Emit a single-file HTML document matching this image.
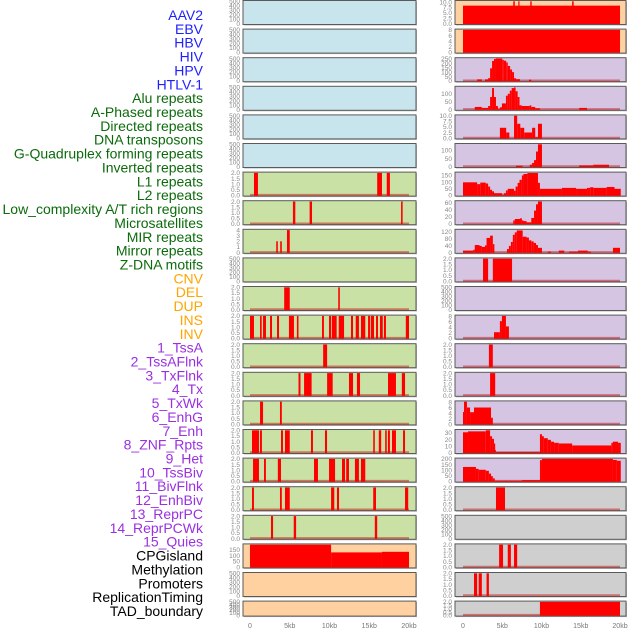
<!DOCTYPE html>
<html><head><meta charset="utf-8">
<style>
html,body{margin:0;padding:0;background:#fff;}
svg{display:block;font-family:"Liberation Sans",sans-serif;}
</style></head>
<body>
<svg id="chart" width="630" height="630" viewBox="0 0 630 630" xmlns="http://www.w3.org/2000/svg"></svg>
<script>
// ---- labels ----
const labelNames = ["AAV2","EBV","HBV","HIV","HPV","HTLV-1","Alu repeats","A-Phased repeats","Directed repeats","DNA transposons","G-Quadruplex forming repeats","Inverted repeats","L1 repeats","L2 repeats","Low_complexity A/T rich regions","Microsatellites","MIR repeats","Mirror repeats","Z-DNA motifs","CNV","DEL","DUP","INS","INV","1_TssA","2_TssAFlnk","3_TxFlnk","4_Tx","5_TxWk","6_EnhG","7_Enh","8_ZNF_Rpts","9_Het","10_TssBiv","11_BivFlnk","12_EnhBiv","13_ReprPC","14_ReprPCWk","15_Quies","CPGisland","Methylation","Promoters","ReplicationTiming","TAD_boundary"];
const labelGroups = [6,13,5,15,5];
const groupColors = ["#1f1fff","#0b6b0b","#ffa500","#9a30e0","#000000"];

// ---- x axis ----
const xTicks = [0,5,10,15,20];
const xTickLabels = ["0","5kb","10kb","15kb","20kb"];

// ---- left column panels: segments [startKb, endKb, value] ----
const L0=[],L1=[],L2=[],L3=[],L4=[],L5=[];
const L6=[[0.5,1.0,2],[16.0,16.6,2],[17.2,17.6,2]];
const L7=[[5.4,5.7,2],[7.5,7.8,2],[19.0,19.2,2]];
const L8=[[3.3,3.5,2],[3.8,4.0,2],[4.65,5.0,4]];
const L9=[];
const L10=[[4.3,5.0,2],[11.1,11.3,2]];
const L11=[[0,0.5,2],[1.26,1.47,2],[1.64,2.01,2],[2.52,2.77,2],[3.4,3.65,2],[4.9,5.53,2],[5.9,6.1,2],[9.06,9.3,2],[9.94,10.2,2],[10.3,10.9,2],[11.16,11.83,2],[12.7,12.96,2],[13.3,13.7,2],[13.96,14.5,2],[14.85,15.1,2],[15.2,15.6,2],[15.85,16.1,2],[16.35,16.7,2],[16.85,17.1,2],[19.6,20.0,2]];
const L12=[[9.2,9.7,2]];
const L13=[[6.1,6.35,2],[6.8,7.75,2],[9.7,10.4,2],[12.45,12.96,2],[13.45,13.84,2],[17.36,18.36,2],[19.1,19.5,2]];
const L14=[[1.26,1.64,2],[3.77,4.0,2]];
const L15=[[0.25,1.13,2],[1.26,1.5,2],[3.9,4.15,2],[4.4,5.0,2],[7.67,7.92,2],[9.43,9.69,2],[15.5,15.7,2],[16.2,16.5,2],[17.0,17.2,2],[17.35,17.6,2],[17.86,18.36,2],[19.25,19.5,2]];
const L16=[[0.38,1.13,2],[1.76,2.0,2],[3.5,3.9,2],[8.05,8.55,2],[9.94,10.7,2],[11.57,11.95,2],[12.1,12.45,2],[13.2,13.7,2],[13.96,14.5,2]];
const L17=[[0.25,0.5,2],[3.77,4.0,2],[4.4,5.0,2],[10.2,10.6,2],[10.94,11.2,2],[15.5,15.85,2],[19.5,19.9,2]];
const L18=[[2.64,2.9,2],[5.5,5.8,2],[15.7,16.0,2]];
const L19=[[0,10.2,195],[10.2,16.6,128],[16.6,20.0,133]];
const L20=[],L21=[];

// ---- right column panels ----
const R0=[[0,20,8.3],[6.4,6.6,10.3],[7.05,7.2,10.3],[8.57,8.75,10.3],[13.9,14.1,10.3]];
const R1=[[0,20,8]];
const R2=[[1.8,2.4,18],[2.8,3.2,18],[3.2,3.45,31],[3.45,3.7,143],[3.7,3.95,227],[3.95,4.2,250],[4.2,5.0,255],[5.0,5.2,240],[5.2,5.5,230],[5.5,5.7,210],[5.7,6.0,170],[6.0,6.25,130],[6.25,6.5,100],[6.5,6.75,30],[6.75,7.26,20],[8.4,8.7,15]];
const R3=[[1.5,2.4,16],[2.4,3.2,10],[3.2,3.45,22],[3.45,3.7,78],[3.7,3.95,134],[3.95,4.2,78],[4.2,4.45,22],[4.45,4.7,4],[4.7,4.96,14],[4.96,5.47,38],[5.47,5.7,86],[5.7,5.96,98],[5.96,6.2,118],[6.2,6.5,134],[6.5,6.7,138],[6.7,6.96,114],[6.96,7.2,78],[7.2,7.5,26],[7.5,8.5,22],[8.5,8.7,26],[8.7,9.2,16],[9.2,9.8,8],[14.8,15.8,10]];
const R4=[[4.7,5.5,4.6],[5.5,5.9,2.5],[6.5,6.9,10],[6.9,7.3,6.4],[7.3,7.8,4.6],[7.8,8.8,2.5],[8.8,9.2,4.6],[9.2,9.55,0.4],[9.55,10.06,6.4]];
const R5=[[6.75,7.6,6],[8.5,8.8,12],[8.8,9.05,23],[9.05,9.3,40],[9.3,9.55,92],[9.55,10.06,136],[14.8,16.6,8],[16.6,18.6,12]];
const R6=[[0,1.8,98],[1.8,2.2,84],[2.2,2.9,96],[2.9,3.2,89],[3.2,3.45,66],[3.45,3.7,42],[3.7,3.95,30],[3.95,5.0,16],[5.0,5.2,2],[5.2,5.47,16],[5.47,5.7,37],[5.7,6.5,49],[6.5,6.7,35],[6.7,6.96,66],[6.96,7.2,94],[7.2,7.5,117],[7.5,7.7,150],[7.7,8.2,161],[8.2,9.55,168],[9.55,9.8,94],[9.8,12.6,49],[12.6,14.4,56],[14.4,15.8,49],[15.8,16.2,56],[16.2,16.6,61],[16.6,18.3,56],[18.3,19.3,63],[19.3,20.1,49]];
const R7=[[6.4,6.6,10],[6.6,7.26,14],[7.26,7.5,16],[7.5,7.7,10],[7.7,8.1,8],[8.1,8.7,4.5],[8.7,9.05,17],[9.05,9.3,38],[9.3,9.55,56],[9.55,10.06,64]];
const R8=[[0,1.3,11],[1.3,1.5,16],[1.5,2.1,43],[2.1,2.4,38],[2.4,2.8,32],[2.8,3.0,41],[3.0,3.45,84],[3.45,3.8,97],[3.8,4.0,48],[5.6,5.85,20],[5.85,6.1,38],[6.1,6.35,61],[6.35,6.6,102],[6.6,6.85,116],[6.85,7.6,127],[7.6,8.1,91],[8.1,8.4,86],[8.4,8.7,70],[8.7,9.0,64],[9.0,9.3,55],[9.3,9.55,43],[9.55,10.06,27],[10.8,11.2,5],[12.2,12.9,11],[13.5,14.0,5],[14.0,14.65,5],[14.65,15.9,11],[15.9,16.3,5],[19.1,20.0,27]];
const R9=[[2.55,3.2,2],[3.8,6.25,2]];
const R10=[];
const R11=[[3.95,4.7,2.2],[4.7,4.96,6.2],[4.96,5.47,8.1],[5.47,5.85,4.3]];
const R12=[[3.3,3.8,2]];
const R13=[[3.45,4.1,2]];
const R14=[[0,0.13,4.4],[0.13,0.5,8.1],[0.5,0.9,6],[0.9,1.4,4.3],[1.4,3.57,6],[3.57,3.8,2.3]];
const R15=[[0,0.64,31],[0.64,2.9,32.4],[2.9,3.45,34],[3.45,3.7,25],[3.7,3.95,21],[3.95,4.1,14],[4.1,4.2,4],[4.2,9.8,1],[9.8,10.06,28],[10.06,10.3,25],[10.3,10.8,22],[10.8,11.2,19.5],[11.2,11.6,16.7],[11.6,12.2,15],[12.2,13.9,14],[13.9,18.9,11],[18.9,19.1,15],[19.1,19.75,16.7],[19.75,20.1,15]];
const R16=[[0,1.65,128],[1.65,2.0,111],[2.0,2.9,103],[2.9,3.3,94],[3.3,3.57,69],[3.57,3.8,46],[3.8,4.05,26],[4.05,7.5,5],[7.5,9.8,11],[9.8,10.06,189],[10.06,19.1,200],[19.1,19.6,191],[19.6,20.1,183]];
const R17=[[4.2,5.35,2]];
const R18=[];
const R19=[[4.6,5.1,2],[5.7,6.1,2],[6.5,6.9,2]];
const R20=[[1.4,1.8,2],[2.0,2.4,2],[3.0,3.3,2]];
const R21=[[9.8,20.0,2]];

// ---- y-axis tick values per panel ----
const T500=[0,100,200,300,400,500];
const T2=[0,0.5,1,1.5,2];
const leftTicks=[T500,T500,T500,T500,T500,T500,T2,T2,[0,1,2,3,4],T500,T2,T2,T2,T2,T2,T2,T2,T2,T2,[0,50,100,150],T500,T500];
const rightTicks=[[0,2.5,5,7.5,10],[0,2,4,6,8],[0,50,100,150,200,250],[0,50,100],[0,2.5,5,7.5,10],[0,50,100],[0,50,100,150],[0,20,40,60],[0,40,80,120],T2,T500,[0,2,4,6,8],T2,T2,[0,2,4,6,8],[0,10,20,30],[0,50,100,150,200],T2,T500,T2,T2,T2];
const leftMax=[500,500,500,500,500,500,2,2,4,500,2,2,2,2,2,2,2,2,2,195,500,500];
const rightMax=[10.3,8,255,140,10,136,169,64,129,2,500,8.1,2,2,8.1,34,200,2,500,2,2,2];
const leftData=[L0,L1,L2,L3,L4,L5,L6,L7,L8,L9,L10,L11,L12,L13,L14,L15,L16,L17,L18,L19,L20,L21];
const rightData=[R0,R1,R2,R3,R4,R5,R6,R7,R8,R9,R10,R11,R12,R13,R14,R15,R16,R17,R18,R19,R20,R21];

const BLUE="#c8e4ec",GREEN="#c9e1a5",PEACH="#ffd0a0",PURPLE="#d5c5e3",GREY="#cfcfcf";
const leftBg=i=> i<6?BLUE:(i<19?GREEN:PEACH);
const rightBg=i=> i<2?PEACH:(i<17?PURPLE:GREY);

const NS="http://www.w3.org/2000/svg";
const svg=document.getElementById('chart');
function mk(tag,attrs,parent){const e=document.createElementNS(NS,tag);for(const k in attrs)e.setAttribute(k,attrs[k]);(parent||svg).appendChild(e);return e;}

// labels
let li=0;
labelGroups.forEach((n,g)=>{for(let k=0;k<n;k++){const t=mk('text',{x:203,y:15+li*13.86+5,'text-anchor':'end','font-size':14,fill:groupColors[g]});t.textContent=labelNames[li];


li++;}});

const cols=[{x0:243,x1:416,zero:250,scale:7.95,data:leftData,ticks:leftTicks,max:leftMax,bg:leftBg,tx:240,name:'left'},
            {x0:455,x1:626,zero:463,scale:7.85,data:rightData,ticks:rightTicks,max:rightMax,bg:rightBg,tx:452,name:'right'}];
function rowTop(i){return i===0?0.5:28.6*i+0.5;}
function rowH(i){return i===21?15:24;}
function fmt(v,ticks){const dec=ticks.some(t=>t%1!==0);return dec?v.toFixed(1):String(v);}

cols.forEach(c=>{
  const xs=kb=>c.zero+kb*c.scale;
  for(let i=0;i<22;i++){
    const top=rowTop(i),h=rowH(i),bot=top+h;
    const g=mk('g',{});
    
    
    mk('rect',{x:c.x0+1,y:top+1,width:c.x1-c.x0,height:h,fill:'#bbb'},g);
    mk('rect',{x:c.x0,y:top,width:c.x1-c.x0,height:h,fill:c.bg(i),stroke:'#5a5a5a','stroke-width':1},g);
    const ymax=c.max[i];
    const ys=v=>bot-0.8-(v/ymax)*(h-1.6);
    const segs=c.data[i];
    if(segs.length){
      const bl=mk('line',{x1:xs(0),x2:xs(20),y1:bot-1.2,y2:bot-1.2,stroke:'rgba(190,0,0,0.45)','stroke-width':2},g);
      
      
    }
    segs.forEach(s=>{
      const y=ys(s[2]);
      const r=mk('rect',{x:xs(s[0]),y:y,width:Math.max(0.8,xs(s[1])-xs(s[0])),height:Math.max(0,bot-0.5-y),fill:'#ff0000'},g);
      
      
    });
    c.ticks[i].forEach(tv=>{
      const t=mk('text',{x:c.tx,y:ys(tv)+2.3,'text-anchor':'end','font-size':6.5,fill:'#888'},g);
      t.textContent=fmt(tv,c.ticks[i]);
      
      
    });
  }
  xTicks.forEach((kb,j)=>{
    const t=mk('text',{x:xs(kb),y:628,'text-anchor':'middle','font-size':7,fill:'#777'});
    t.textContent=xTickLabels[j];
    
    
  });
});
</script>
</body></html>
